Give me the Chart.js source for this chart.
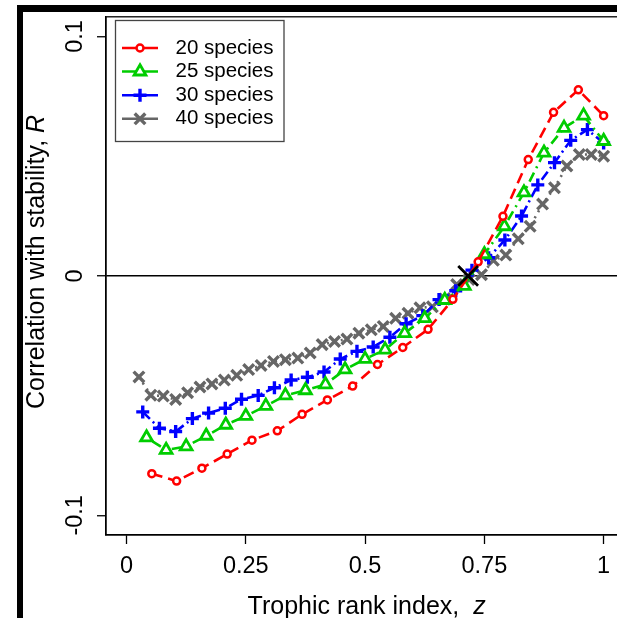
<!DOCTYPE html>
<html><head><meta charset="utf-8">
<script src="https://cdn.jsdelivr.net/npm/chart.js@4.4.0/dist/chart.umd.min.js"></script>
<style>
html,body{margin:0;padding:0;background:#fff;overflow:hidden;width:617px;height:618px}
canvas{display:block}
</style></head><body>
<canvas id="c" width="640" height="618"></canvas>
<script>
// ---- data ----
const seriesLabels = ['20 species', '25 species', '30 species', '40 species'];

const z20 = [0.053,0.105,0.158,0.211,0.263,0.316,0.368,0.421,0.474,0.526,0.579,0.632,0.684,0.737,0.789,0.842,0.895,0.947,1];
const r20 = [-0.0826,-0.0857,-0.0803,-0.0744,-0.0686,-0.0647,-0.0578,-0.0518,-0.0460,-0.0370,-0.0299,-0.0223,-0.0098,0.0059,0.0249,0.0486,0.0683,0.0777,0.0669];

const z25 = [0.042,0.083,0.125,0.167,0.208,0.25,0.292,0.333,0.375,0.417,0.458,0.5,0.542,0.583,0.625,0.667,0.708,0.75,0.792,0.833,0.875,0.917,0.958,1];
const r25 = [-0.0675,-0.0727,-0.0712,-0.0668,-0.0622,-0.0585,-0.0543,-0.0499,-0.0478,-0.0453,-0.0391,-0.0347,-0.0308,-0.0239,-0.0177,-0.0101,-0.0042,0.0090,0.0207,0.0348,0.0514,0.0618,0.0669,0.0563];

const z30 = [0.034,0.069,0.103,0.138,0.172,0.207,0.241,0.276,0.310,0.345,0.379,0.414,0.448,0.483,0.517,0.552,0.586,0.621,0.655,0.690,0.724,0.759,0.793,0.828,0.862,0.897,0.931,0.966,1];
const r30 = [-0.0568,-0.0636,-0.0650,-0.0596,-0.0573,-0.0553,-0.0515,-0.0499,-0.0467,-0.0435,-0.0423,-0.0401,-0.0347,-0.0315,-0.0297,-0.0256,-0.0200,-0.0166,-0.0099,-0.0062,0.0024,0.0076,0.0150,0.0250,0.0380,0.0473,0.0566,0.0611,0.0555];

const z40 = [0.026,0.051,0.077,0.103,0.128,0.154,0.179,0.205,0.231,0.256,0.282,0.308,0.333,0.359,0.385,0.410,0.436,0.462,0.487,0.513,0.538,0.564,0.590,0.615,0.641,0.667,0.692,0.718,0.744,0.769,0.795,0.821,0.846,0.872,0.897,0.923,0.949,0.974,1];
const r40 = [-0.0422,-0.0498,-0.0502,-0.0516,-0.0488,-0.0464,-0.0451,-0.0435,-0.0415,-0.0391,-0.0374,-0.0357,-0.0350,-0.0343,-0.0322,-0.0287,-0.0274,-0.0264,-0.0239,-0.0225,-0.0211,-0.0177,-0.0156,-0.0133,-0.0129,-0.0097,-0.0036,-0.0015,0.0005,0.0065,0.0087,0.0155,0.0207,0.0300,0.0368,0.0459,0.0507,0.0507,0.0500];

const crossingZ = [0.716];
const crossingR = [0];

const xTickValues = [0, 0.25, 0.5, 0.75, 1];
const xTickLabels = ['0', '0.25', '0.5', '0.75', '1'];
const yTickValues = [-0.1, 0, 0.1];
const yTickLabels = ['-0.1', '0', '0.1'];

const xTitle = 'Trophic rank index,  ';
const xTitleItalic = 'z';
const yTitle = 'Correlation with stability, ';
const yTitleItalic = 'R';

// ---- build ----
const FONT = "'Liberation Sans', Arial, sans-serif";
const pts = (xs, ys) => xs.map((x, i) => ({x: x, y: ys[i]}));

const styles = [
  {color:'#FF0000', dash:[11,6], pointStyle:'circle', radius:3.5, pbw:2.5},
  {color:'#00CD00', dash:[2,5,10,5], pointStyle:'triangle', radius:6.8, pbw:2.8},
  {color:'#0000FF', dash:[10,4,2,4], pointStyle:'cross', radius:6.5, pbw:3.4},
  {color:'#666666', dash:[2,5], pointStyle:'crossRot', radius:7.5, pbw:3.4}
];
const seriesX = [z20, z25, z30, z40];
const seriesY = [r20, r25, r30, r40];

const datasets = [{
  label: 'crossing',
  data: pts(crossingZ, crossingR),
  showLine: false,
  pointStyle: 'crossRot',
  pointRadius: 14,
  pointBorderWidth: 2.8,
  borderColor: '#000',
  backgroundColor: '#000',
  pointBorderColor: '#000'
}];
seriesLabels.forEach((lab, i) => {
  const s = styles[i];
  datasets.push({
    label: lab,
    data: pts(seriesX[i], seriesY[i]),
    showLine: true,
    tension: 0,
    borderColor: s.color,
    backgroundColor: s.color,
    borderWidth: 2.6,
    borderDash: s.dash,
    pointStyle: s.pointStyle,
    pointRadius: s.radius,
    pointBorderWidth: s.pbw,
    pointBorderColor: s.color,
    pointBackgroundColor: '#fff'
  });
});

function drawMarker(ctx, style, radius, bw, color, x, y) {
  ctx.save();
  ctx.strokeStyle = color;
  ctx.fillStyle = '#fff';
  ctx.lineWidth = bw;
  ctx.setLineDash([]);
  Chart.helpers.drawPoint(ctx, {pointStyle: style, rotation: 0, radius: radius, borderWidth: bw}, x, y);
  ctx.restore();
}

const decor = {
  id: 'decor',
  beforeDraw(chart) {
    const ctx = chart.ctx;
    ctx.save();
    ctx.fillStyle = '#fff';
    ctx.fillRect(0, 0, chart.width, chart.height);
    ctx.fillStyle = '#000';
    ctx.fillRect(17, 5, chart.width - 17, 7);
    ctx.fillRect(17, 5, 6, chart.height - 5);
    ctx.restore();
  },
  afterDraw(chart) {
    const ctx = chart.ctx;
    const a = chart.chartArea;
    ctx.save();
    // plot box
    ctx.strokeStyle = '#000';
    ctx.lineWidth = 1.3;
    ctx.setLineDash([]);
    ctx.strokeRect(a.left, a.top, a.right - a.left, a.bottom - a.top);

    // legend
    ctx.strokeStyle = '#444';
    ctx.lineWidth = 1.3;
    ctx.strokeRect(115.5, 20.5, 168.5, 121);
    ctx.font = '20.5px ' + FONT;
    ctx.textBaseline = 'middle';
    ctx.textAlign = 'left';
    chart.data.datasets.slice(1).forEach((ds, i) => {
      const y = 48 + i * 23.6;
      ctx.strokeStyle = ds.borderColor;
      ctx.lineWidth = 2.5;
      ctx.setLineDash([]);
      ctx.beginPath();
      ctx.moveTo(122, y);
      ctx.lineTo(158, y);
      ctx.stroke();
      drawMarker(ctx, ds.pointStyle, ds.pointRadius, ds.pointBorderWidth, ds.borderColor, 140, y);
      ctx.fillStyle = '#000';
      ctx.fillText(ds.label, 175.5, y);
    });

    // x title
    const cx = (a.left + a.right) / 2 + 2;
    ctx.fillStyle = '#000';
    ctx.textBaseline = 'alphabetic';
    ctx.font = '25px ' + FONT;
    const w1 = ctx.measureText(xTitle).width;
    ctx.font = 'italic 25px ' + FONT;
    const w2 = ctx.measureText(xTitleItalic).width;
    const sx = cx - (w1 + w2) / 2;
    ctx.font = '25px ' + FONT;
    ctx.fillText(xTitle, sx, 614);
    ctx.font = 'italic 25px ' + FONT;
    ctx.fillText(xTitleItalic, sx + w1, 614);

    // y title
    ctx.font = '25px ' + FONT;
    const v1 = ctx.measureText(yTitle).width;
    ctx.font = 'italic 25px ' + FONT;
    const v2 = ctx.measureText(yTitleItalic).width;
    const cy = (a.top + a.bottom) / 2 - 14;
    ctx.translate(43.5, cy);
    ctx.rotate(-Math.PI / 2);
    const sy = -(v1 + v2) / 2;
    ctx.font = '25px ' + FONT;
    ctx.fillText(yTitle, sy, 0);
    ctx.font = 'italic 25px ' + FONT;
    ctx.fillText(yTitleItalic, sy + v1, 0);
    ctx.restore();
  }
};

new Chart(document.getElementById('c'), {
  type: 'scatter',
  data: {datasets: datasets},
  options: {
    responsive: false,
    animation: false,
    devicePixelRatio: 1,
    layout: {padding: {top: 13, right: 12, left: 0, bottom: 0}},
    plugins: {legend: {display: false}, tooltip: {enabled: false}},
    scales: {
      x: {
        type: 'linear',
        min: -0.043,
        max: 1.041,
        afterBuildTicks: s => { s.ticks = xTickValues.map(v => ({value: v})); },
        afterFit: s => { s.height = 83; s.paddingLeft = 0; s.paddingRight = 0; },
        ticks: {
          autoSkip: false,
          maxRotation: 0,
          padding: 8,
          color: '#000',
          font: {family: FONT, size: 23.5},
          callback: v => xTickLabels[xTickValues.indexOf(v)]
        },
        grid: {display: true, drawOnChartArea: false, tickLength: 9, tickColor: '#000', tickWidth: 1.3, color: '#000'},
        border: {display: true, color: '#000', width: 1.3}
      },
      y: {
        type: 'linear',
        min: -0.1082,
        max: 0.1082,
        afterBuildTicks: s => { s.ticks = yTickValues.map(v => ({value: v})); },
        afterFit: s => { s.width = 106; s.paddingTop = 0; s.paddingBottom = 0; },
        ticks: {
          autoSkip: false,
          minRotation: 90,
          maxRotation: 90,
          crossAlign: 'center',
          padding: 1,
          color: '#000',
          font: {family: FONT, size: 23.5},
          callback: v => yTickLabels[yTickValues.indexOf(v)]
        },
        grid: {
          display: true,
          drawOnChartArea: true,
          tickLength: 9,
          tickColor: '#000',
          tickWidth: 1.3,
          lineWidth: 1.5,
          color: c => (c.tick && c.tick.value === 0) ? '#000' : 'rgba(0,0,0,0)'
        },
        border: {display: true, color: '#000', width: 1.3}
      }
    }
  },
  plugins: [decor]
});
</script>
</body></html>
